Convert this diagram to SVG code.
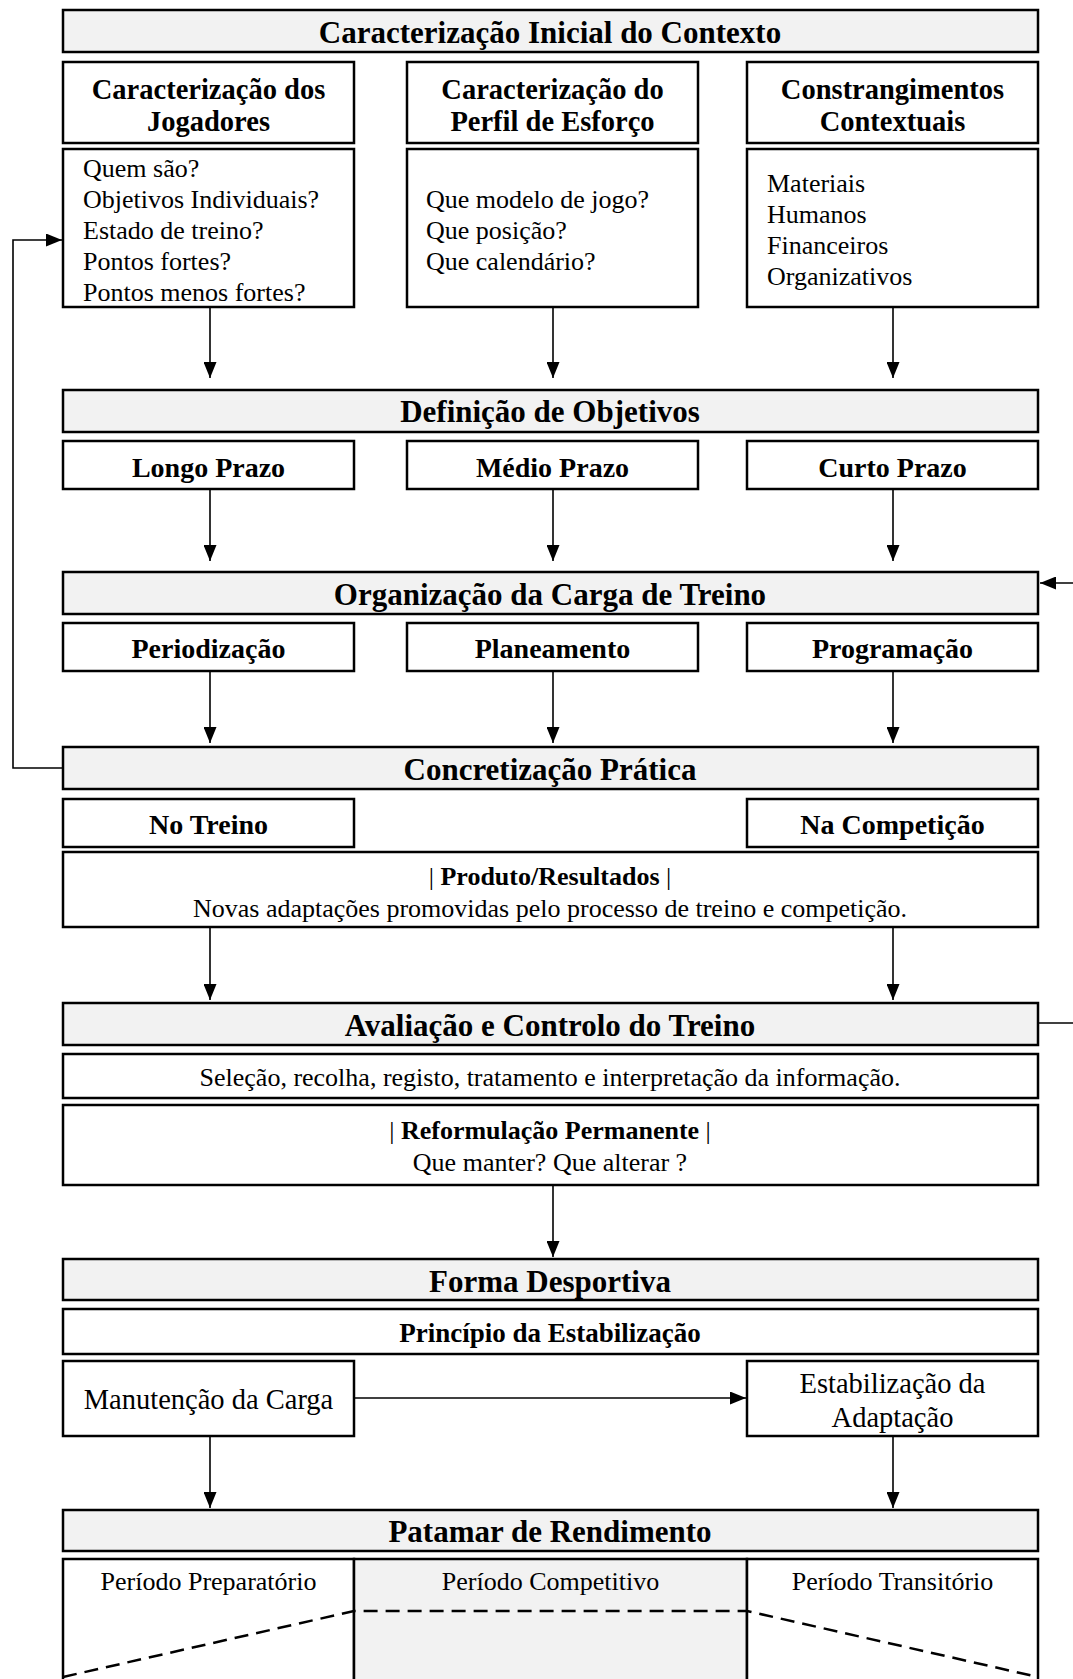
<svg xmlns="http://www.w3.org/2000/svg" width="1073" height="1679" viewBox="0 0 1073 1679">
<style>
.box{fill:#ffffff;stroke:#000;stroke-width:2.5}
.hdr{fill:#f2f2f2;stroke:#000;stroke-width:2.5}
.t{font-family:"Liberation Serif","Times New Roman",serif;fill:#000}
.b{font-weight:bold}
.c{text-anchor:middle}
.con{stroke:#000;stroke-width:1.6;fill:none}
.dash{stroke:#000;stroke-width:2.5;fill:none;stroke-dasharray:14 8}
</style>
<defs>
<marker id="ah" markerWidth="16" markerHeight="13" refX="16" refY="6.5" viewBox="0 0 16 13" markerUnits="userSpaceOnUse" orient="auto">
<path d="M0,0 L16,6.5 L0,13 Z" fill="#000"/>
</marker>
</defs>
<rect width="1073" height="1679" fill="#fff"/>

<g id="n-inicial"><rect class="hdr" x="63" y="10" width="975" height="42"/><text class="t b c" x="550" y="43" font-size="31">Caracterização Inicial do Contexto</text></g>

<g id="n-jog-h"><rect class="box" x="63" y="62" width="291" height="81"/><text class="t b c" x="208.5" y="99" font-size="28.5">Caracterização dos</text><text class="t b c" x="208.5" y="131" font-size="28.5">Jogadores</text></g>
<g id="n-perf-h"><rect class="box" x="407" y="62" width="291" height="81"/><text class="t b c" x="552.5" y="99" font-size="28.5">Caracterização do</text><text class="t b c" x="552.5" y="131" font-size="28.5">Perfil de Esforço</text></g>
<g id="n-cons-h"><rect class="box" x="747" y="62" width="291" height="81"/><text class="t b c" x="892.5" y="99" font-size="28.5">Constrangimentos</text><text class="t b c" x="892.5" y="131" font-size="28.5">Contextuais</text></g>

<g id="n-jog-l"><rect class="box" x="63" y="149" width="291" height="158"/>
<text class="t" x="83" y="177" font-size="26">Quem são?</text>
<text class="t" x="83" y="208" font-size="26">Objetivos Individuais?</text>
<text class="t" x="83" y="239" font-size="26">Estado de treino?</text>
<text class="t" x="83" y="270" font-size="26">Pontos fortes?</text>
<text class="t" x="83" y="301" font-size="26">Pontos menos fortes?</text></g>
<g id="n-perf-l"><rect class="box" x="407" y="149" width="291" height="158"/>
<text class="t" x="426" y="208" font-size="26">Que modelo de jogo?</text>
<text class="t" x="426" y="239" font-size="26">Que posição?</text>
<text class="t" x="426" y="270" font-size="26">Que calendário?</text></g>
<g id="n-cons-l"><rect class="box" x="747" y="149" width="291" height="158"/>
<text class="t" x="767" y="192" font-size="26">Materiais</text>
<text class="t" x="767" y="223" font-size="26">Humanos</text>
<text class="t" x="767" y="254" font-size="26">Financeiros</text>
<text class="t" x="767" y="285" font-size="26">Organizativos</text></g>

<g id="n-def"><rect class="hdr" x="63" y="390" width="975" height="42"/><text class="t b c" x="550" y="422" font-size="31">Definição de Objetivos</text></g>
<g id="n-longo"><rect class="box" x="63" y="441" width="291" height="48"/><text class="t b c" x="208.5" y="477" font-size="28">Longo Prazo</text></g>
<g id="n-medio"><rect class="box" x="407" y="441" width="291" height="48"/><text class="t b c" x="552.5" y="477" font-size="28">Médio Prazo</text></g>
<g id="n-curto"><rect class="box" x="747" y="441" width="291" height="48"/><text class="t b c" x="892.5" y="477" font-size="28">Curto Prazo</text></g>

<g id="n-org"><rect class="hdr" x="63" y="572" width="975" height="42"/><text class="t b c" x="550" y="605" font-size="31">Organização da Carga de Treino</text></g>
<g id="n-period"><rect class="box" x="63" y="623" width="291" height="48"/><text class="t b c" x="208.5" y="658" font-size="28">Periodização</text></g>
<g id="n-plan"><rect class="box" x="407" y="623" width="291" height="48"/><text class="t b c" x="552.5" y="658" font-size="28">Planeamento</text></g>
<g id="n-prog"><rect class="box" x="747" y="623" width="291" height="48"/><text class="t b c" x="892.5" y="658" font-size="28">Programação</text></g>

<g id="n-concr"><rect class="hdr" x="63" y="747" width="975" height="42"/><text class="t b c" x="550" y="780" font-size="31">Concretização Prática</text></g>
<g id="n-notreino"><rect class="box" x="63" y="799" width="291" height="48"/><text class="t b c" x="208.5" y="834" font-size="28">No Treino</text></g>
<g id="n-nacomp"><rect class="box" x="747" y="799" width="291" height="48"/><text class="t b c" x="892.5" y="834" font-size="28">Na Competição</text></g>
<g id="n-produto"><rect class="box" x="63" y="852" width="975" height="75"/><text class="t c" x="550" y="885" font-size="26">| <tspan class="b">Produto/Resultados</tspan> |</text><text class="t c" x="550" y="917" font-size="26">Novas adaptações promovidas pelo processo de treino e competição.</text></g>

<g id="n-aval"><rect class="hdr" x="63" y="1003" width="975" height="42"/><text class="t b c" x="550" y="1036" font-size="31">Avaliação e Controlo do Treino</text></g>
<g id="n-selec"><rect class="box" x="63" y="1054" width="975" height="44"/><text class="t c" x="550" y="1086" font-size="26">Seleção, recolha, registo, tratamento e interpretação da informação.</text></g>
<g id="n-reform"><rect class="box" x="63" y="1105" width="975" height="80"/><text class="t c" x="550" y="1139" font-size="26">| <tspan class="b">Reformulação Permanente</tspan> |</text><text class="t c" x="550" y="1171" font-size="26">Que manter? Que alterar ?</text></g>

<g id="n-forma"><rect class="hdr" x="63" y="1259" width="975" height="41"/><text class="t b c" x="550" y="1292" font-size="31">Forma Desportiva</text></g>
<g id="n-princ"><rect class="box" x="63" y="1309" width="975" height="45"/><text class="t b c" x="550" y="1342" font-size="27">Princípio da Estabilização</text></g>
<g id="n-manut"><rect class="box" x="63" y="1361" width="291" height="75"/><text class="t c" x="208.5" y="1409" font-size="28.5">Manutenção da Carga</text></g>
<g id="n-estab"><rect class="box" x="747" y="1361" width="291" height="75"/><text class="t c" x="892.5" y="1393" font-size="28.5">Estabilização da</text><text class="t c" x="892.5" y="1427" font-size="28.5">Adaptação</text></g>

<g id="n-patamar"><rect class="hdr" x="63" y="1510" width="975" height="41"/><text class="t b c" x="550" y="1542" font-size="31">Patamar de Rendimento</text></g>
<g id="n-prep"><rect class="box" x="63" y="1559" width="291" height="124"/><text class="t c" x="208.5" y="1590" font-size="26">Período Preparatório</text></g>
<g id="n-comp"><rect class="hdr" x="354" y="1559" width="393" height="124"/><text class="t c" x="550.5" y="1590" font-size="26">Período Competitivo</text></g>
<g id="n-trans"><rect class="box" x="747" y="1559" width="291" height="124"/><text class="t c" x="892.5" y="1590" font-size="26">Período Transitório</text></g>
<g id="curve"><path class="dash" d="M63,1677 L354,1611 L747,1611 L1038,1677"/></g>

<g id="connectors">
<line class="con" x1="210" y1="307" x2="210" y2="378" marker-end="url(#ah)"/>
<line class="con" x1="553" y1="307" x2="553" y2="378" marker-end="url(#ah)"/>
<line class="con" x1="893" y1="307" x2="893" y2="378" marker-end="url(#ah)"/>
<line class="con" x1="210" y1="489" x2="210" y2="561" marker-end="url(#ah)"/>
<line class="con" x1="553" y1="489" x2="553" y2="561" marker-end="url(#ah)"/>
<line class="con" x1="893" y1="489" x2="893" y2="561" marker-end="url(#ah)"/>
<line class="con" x1="210" y1="671" x2="210" y2="743" marker-end="url(#ah)"/>
<line class="con" x1="553" y1="671" x2="553" y2="743" marker-end="url(#ah)"/>
<line class="con" x1="893" y1="671" x2="893" y2="743" marker-end="url(#ah)"/>
<line class="con" x1="210" y1="927" x2="210" y2="1000" marker-end="url(#ah)"/>
<line class="con" x1="893" y1="927" x2="893" y2="1000" marker-end="url(#ah)"/>
<line class="con" x1="553" y1="1185" x2="553" y2="1257" marker-end="url(#ah)"/>
<line class="con" x1="210" y1="1436" x2="210" y2="1508" marker-end="url(#ah)"/>
<line class="con" x1="893" y1="1436" x2="893" y2="1508" marker-end="url(#ah)"/>
<line class="con" x1="354" y1="1398" x2="746" y2="1398" stroke-width="2.5" marker-end="url(#ah)"/>
<polyline class="con" points="63,768 13,768 13,240 62,240" stroke-width="2.2" marker-end="url(#ah)"/>
<line class="con" x1="1075" y1="583" x2="1040" y2="583" stroke-width="2" marker-end="url(#ah)"/>
<line class="con" x1="1038" y1="1023" x2="1075" y2="1023" stroke-width="2"/>
</g>
</svg>
